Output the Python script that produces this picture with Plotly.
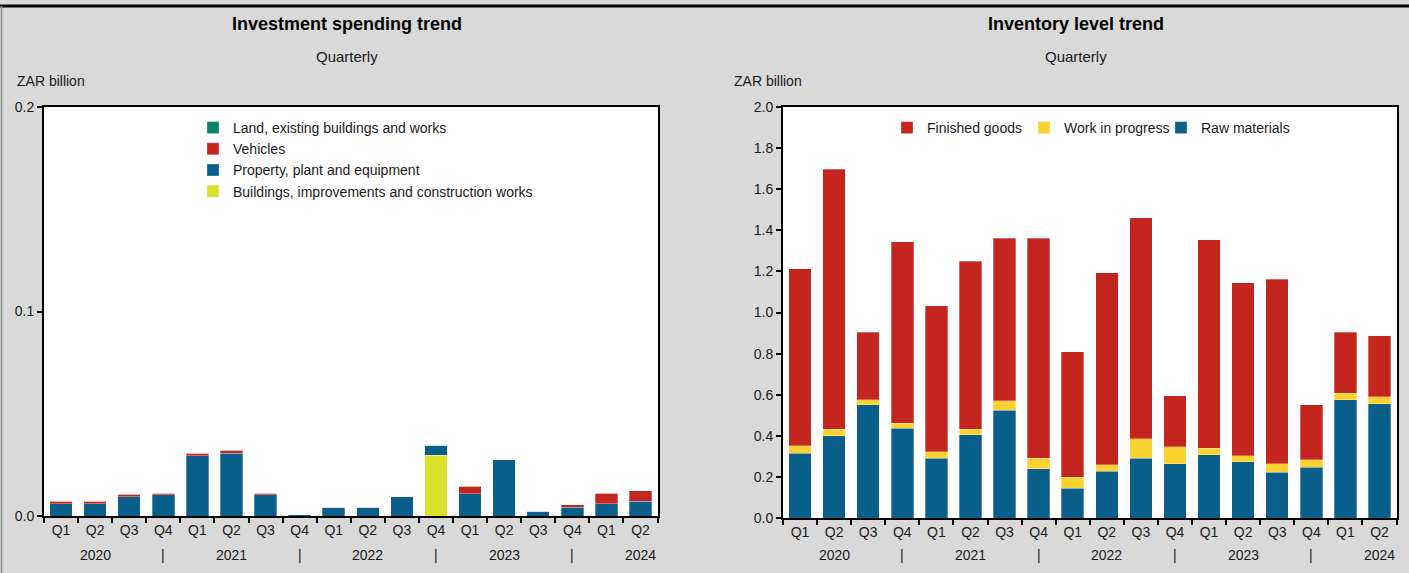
import plotly.graph_objects as go

quarters = ["Q1", "Q2", "Q3", "Q4"]
years = ["2020", "2021", "2022", "2023", "2024"]
periods = [f"{q} {y}" for y in years for q in quarters][:18]

# Investment spending (ZAR billion)
inv_buildings = [0, 0, 0, 0, 0, 0, 0, 0, 0, 0, 0, 0.0297, 0, 0, 0, 0, 0, 0]
inv_ppe = [0.0060, 0.0060, 0.0093, 0.0103, 0.0295, 0.0308, 0.0103, 0.0005, 0.0044,
           0.0044, 0.0093, 0.0049, 0.0109, 0.0275, 0.0024, 0.0044, 0.0060, 0.0073]
inv_vehicles = [0.0013, 0.0013, 0.0013, 0.0009, 0.0013, 0.0013, 0.0009, 0, 0,
                0, 0, 0, 0.0036, 0, 0, 0.0010, 0.0052, 0.0051]
inv_land = [0] * 18

# Inventory levels (ZAR billion)
raw_materials = [0.316, 0.400, 0.550, 0.436, 0.290, 0.404, 0.524, 0.239, 0.146,
                 0.227, 0.290, 0.264, 0.308, 0.273, 0.222, 0.248, 0.576, 0.555]
work_in_progress = [0.036, 0.033, 0.026, 0.026, 0.033, 0.029, 0.046, 0.051, 0.052,
                    0.033, 0.095, 0.082, 0.031, 0.029, 0.042, 0.036, 0.031, 0.034]
finished_goods = [0.860, 1.263, 0.328, 0.882, 0.711, 0.816, 0.791, 1.071, 0.612,
                  0.934, 1.075, 0.248, 1.016, 0.842, 0.899, 0.266, 0.297, 0.297]

tick_text = (["Q1", "Q2", "Q3", "Q4"] * 5)[:18]
year_row = {1: "2020", 3: "|", 5: "2021", 7: "|", 9: "2022", 11: "|", 13: "2023", 15: "|", 17: "2024"}

FONT = "Liberation Sans, Arial, sans-serif"
BG = "#d9d9d9"
BLUE = "#0a5e8a"
RED = "#c4261f"
YEL = "#fdd22f"
LIME = "#d8e028"
TEAL = "#0f7f6e"
EDGE = dict(color="rgba(255,255,255,0.5)", width=0.6)
TXT = "#1a1a1a"

fig = go.Figure()

def add_bar(x, y, name, color, xa, ya, leg):
    fig.add_trace(go.Bar(x=x, y=y, name=name, marker=dict(color=color, line=EDGE),
                         xaxis=xa, yaxis=ya, legend=leg))

add_bar(periods, inv_buildings, "Buildings, improvements and construction works", LIME, "x", "y", "legend")
add_bar(periods, inv_ppe, "Property, plant and equipment", BLUE, "x", "y", "legend")
add_bar(periods, inv_vehicles, "Vehicles", RED, "x", "y", "legend")
add_bar(periods, inv_land, "Land, existing buildings and works", TEAL, "x", "y", "legend")

add_bar(periods, raw_materials, "Raw materials", BLUE, "x2", "y2", "legend2")
add_bar(periods, work_in_progress, "Work in progress", YEL, "x2", "y2", "legend2")
add_bar(periods, finished_goods, "Finished goods", RED, "x2", "y2", "legend2")

W, H = 1409, 573
def px(v):
    return v / W
def py(v):
    return 1 - v / H

xcommon = dict(type="category", tickson="boundaries", ticks="outside", ticklen=5,
               tickcolor="black", tickwidth=1.5, showline=True, linecolor="black",
               linewidth=2, mirror=True, showgrid=False, tickvals=periods,
               ticktext=tick_text, tickfont=dict(family=FONT, size=14, color=TXT),
               zeroline=False, automargin=False)
ycommon = dict(ticks="outside", ticklen=5, tickcolor="black", tickwidth=1.5,
               showline=True, linecolor="black", linewidth=2, mirror=True,
               showgrid=False, zeroline=False, automargin=False,
               tickfont=dict(family=FONT, size=14, color=TXT))

fig.update_layout(
    width=W, height=H,
    margin=dict(l=0, r=0, t=0, b=0, pad=0, autoexpand=False),
    paper_bgcolor=BG, plot_bgcolor="white",
    barmode="stack", bargap=0.34,
    showlegend=True,
    xaxis=dict(domain=[px(44), px(658)], anchor="y", **xcommon),
    yaxis=dict(domain=[py(516), py(107)], anchor="x", range=[0, 0.2],
               tickvals=[0, 0.1, 0.2], tickformat=".1f", **ycommon),
    xaxis2=dict(domain=[px(783), px(1397)], anchor="y2", **xcommon),
    yaxis2=dict(domain=[py(518), py(107)], anchor="x2", range=[0, 2.0],
                dtick=0.2, tickformat=".1f", **ycommon),
    legend=dict(x=px(193), y=py(112), xanchor="left", yanchor="top",
                orientation="v", traceorder="reversed", bgcolor="rgba(0,0,0,0)",
                font=dict(family=FONT, size=14, color=TXT),
                itemwidth=30, tracegroupgap=0),
    legend2=dict(x=px(887), y=py(112), xanchor="left", yanchor="top",
                 orientation="h", traceorder="reversed", bgcolor="rgba(0,0,0,0)",
                 font=dict(family=FONT, size=14, color=TXT),
                 entrywidthmode="pixels", entrywidth=92),
)

ann = []
for cx, title in [(347, "Investment spending trend"), (1076, "Inventory level trend")]:
    ann.append(dict(x=px(cx), y=py(24), xref="paper", yref="paper", text=f"<b>{title}</b>",
                    showarrow=False, font=dict(family=FONT, size=18, color="black"),
                    xanchor="center", yanchor="middle"))
    ann.append(dict(x=px(cx), y=py(57), xref="paper", yref="paper", text="Quarterly",
                    showarrow=False, font=dict(family=FONT, size=15, color=TXT),
                    xanchor="center", yanchor="middle"))
for lx in [15, 732]:
    ann.append(dict(x=px(lx), y=py(81), xref="paper", yref="paper", text="ZAR billion",
                    showarrow=False, font=dict(family=FONT, size=14, color=TXT),
                    xanchor="left", yanchor="middle"))
for xa in ["x", "x2"]:
    for i, t in year_row.items():
        ann.append(dict(x=i, y=py(555), xref=xa, yref="paper", text=t, showarrow=False,
                        font=dict(family=FONT, size=14, color=TXT),
                        xanchor="center", yanchor="middle"))
fig.update_layout(annotations=ann)

fig.add_shape(type="line", xref="paper", yref="paper", x0=0, x1=1, y0=py(6), y1=py(6),
              line=dict(color="black", width=3))
fig.add_shape(type="line", xref="paper", yref="paper", x0=px(1.5), x1=px(1.5), y0=0, y1=py(6),
              line=dict(color="#8a8a8a", width=1.5))

fig.write_html("out.html", config={"displayModeBar": False},
               post_script="document.body.style.margin='0px';document.body.style.overflow='hidden';")
